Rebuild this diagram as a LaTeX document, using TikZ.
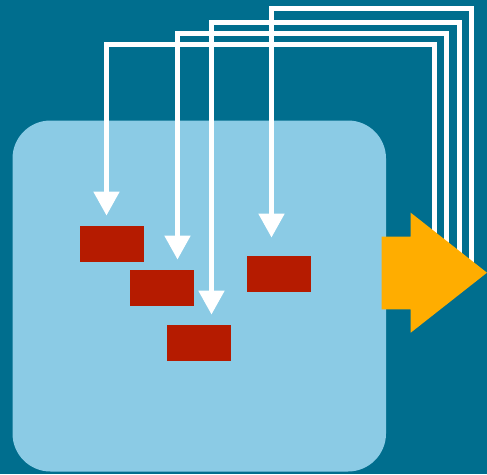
\documentclass[tikz,border=0pt]{standalone}
\usetikzlibrary{arrows.meta,calc}
\definecolor{bgteal}{HTML}{006E8E}
\definecolor{panelblue}{HTML}{8BCBE5}
\definecolor{boxred}{HTML}{B51B00}
\definecolor{outorange}{HTML}{FFAD00}
\tikzset{
  panel/.style={fill=panelblue,draw=none,rounded corners=38pt},
  redbox/.style={fill=boxred,draw=none,minimum width=64pt,minimum height=36pt,inner sep=0pt},
  feed/.style={draw=white,line width=5pt,-{Triangle[width=25pt,length=24pt]},shorten >=10pt},
  outarrow/.style={fill=outorange,draw=none}
}
\begin{document}
\begin{tikzpicture}[x=1pt,y=-1pt]
  \useasboundingbox (0,0) rectangle (487,474);
  \fill[bgteal] (0,0) rectangle (487,474);
  % container
  \fill[panel] (12.5,120.5) rectangle (386,471.5);
  % red blocks
  \node[redbox] (r1) at (112.2,243.8) {};
  \node[redbox] (r2) at (162.3,287.8) {};
  \node[redbox] (r3) at (199.3,342.8) {};
  \node[redbox] (r4) at (279.3,273.8) {};
  % feedback loops leaving the output arrow
  \coordinate (s1) at (434,280);
  \coordinate (s2) at (446.5,280);
  \coordinate (s3) at (459,280);
  \coordinate (s4) at (471.5,280);
  \coordinate (c1) at (106.5,44.5);
  \coordinate (c2) at (177.5,33);
  \coordinate (c3) at (211.5,22);
  \coordinate (c4) at (271.5,8.2);
  \draw[feed] (s1) |- (c1) -- (c1 |- r1.north);
  \draw[feed] (s2) |- (c2) -- (c2 |- r2.north);
  \draw[feed] (s3) |- (c3) -- (c3 |- r3.north);
  \draw[feed,shorten >=18pt] (s4) |- (c4) -- (c4 |- r4.north);
  % output arrow
  \coordinate (tip) at (487,272.7);
  \fill[outarrow] (381.7,236.7) -- (410.7,236.7) -- (410.7,212.7) -- (tip)
    -- (410.7,332.7) -- (410.7,309.3) -- (381.7,309.3) -- cycle;
\end{tikzpicture}
\end{document}
